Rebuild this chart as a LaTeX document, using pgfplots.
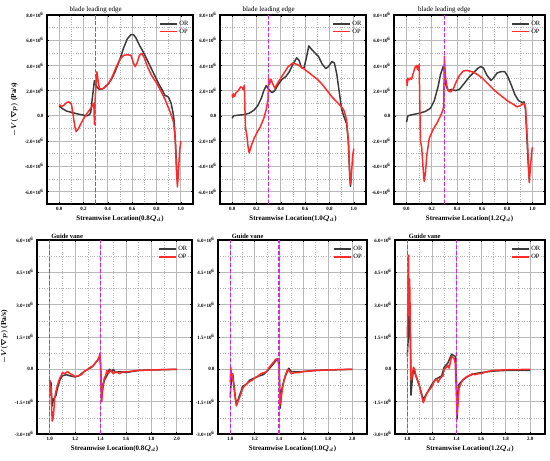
\documentclass[border=0pt]{standalone}
\usepackage{pgfplots}
\pgfplotsset{compat=1.18}
\usepackage{fontspec}
\setmainfont{Liberation Serif}
\definecolor{orc}{HTML}{3C3C3C}
\definecolor{opc}{HTML}{FF2A2A}
\definecolor{mag}{HTML}{D22ADC}
\newcommand{\tl}[1]{#1×10\textsuperscript{6}}
\pgfplotsset{
  base/.style={
    scale only axis,
    anchor=south west,
    clip mode=individual,
    axis line style={line width=1.2pt},
    xmajorgrids, ymajorgrids, xminorgrids, yminorgrids,
    major grid style={solid, draw=gray!55, line width=0.7pt},
    minor grid style={dotted, draw=gray!60, line width=0.5pt},
    minor x tick num=1, minor y tick num=1,
    tick style={black, line width=0.6pt},
    major tick length=2.2bp, minor tick length=1.4bp,
    tick align=inside,
    ticklabel style={font=\fontsize{5}{6}\selectfont\bfseries},
    xticklabel style={/pgf/number format/.cd, fixed, fixed zerofill, precision=1, assume math mode=true},
    xlabel style={font=\fontsize{7}{8}\selectfont\bfseries\boldmath, yshift=2bp},
    ylabel style={font=\fontsize{7.5}{8}\selectfont\bfseries\boldmath},
    legend style={at={(0.99,0.985)}, anchor=north east, draw=none, fill=none,
      font=\fontsize{6.5}{7}\selectfont, row sep=-2pt, inner sep=1pt},
    legend cell align=left,
  },
  top/.style={base, width=146bp, height=189bp, xmin=-0.1, xmax=1.1, ymin=-7, ymax=8,
    xtick={0,0.2,0.4,0.6,0.8,1.0},
    ytick={-6,-4,-2,0,2,4,6,8},
    yticklabels={\tl{-6.0},\tl{-4.0},\tl{-2.0},0.0,\tl{2.0},\tl{4.0},\tl{6.0},\tl{8.0}}},
  bot/.style={base, height=194bp, xmin=0.9, xmax=2.12, ymin=-3, ymax=6,
    xtick={1.0,1.2,1.4,1.6,1.8,2.0},
    ytick={-3,-1.5,0,1.5,3,4.5,6},
    yticklabels={\tl{-3.0},\tl{-1.5},0.0,\tl{1.5},\tl{3.0},\tl{4.5},\tl{6.0}}},
  orline/.style={orc, line width=1.5pt, line join=round},
  opline/.style={opc, line width=1.5pt, line join=round},
  vline/.style={mag, line width=1.4pt, dash pattern=on 4pt off 2pt, forget plot},
}
\begin{document}
\begin{tikzpicture}
\path[use as bounding box] (0,0) rectangle (550bp,-461bp);

% ---------- Panel 1 ----------
\begin{axis}[top, at={(47bp,-204bp)},
  xlabel={Streamwise Location(0.8$Q_d$)},
  ylabel={$-V(\nabla p)$ (Pa/s)}]
\addplot[orline] coordinates {(0.0,0.77)(0.03,0.55)(0.06,0.38)(0.1,0.28)(0.15,0.15)(0.2,0.05)(0.23,0.0)(0.25,0.1)(0.26,0.3)(0.27,1.2)(0.28,2.0)(0.29,2.8)(0.30,2.5)(0.31,2.3)(0.33,2.1)(0.36,2.15)(0.4,2.5)(0.43,2.9)(0.46,3.5)(0.5,4.5)(0.53,5.4)(0.56,6.1)(0.59,6.45)(0.61,6.45)(0.63,6.2)(0.66,5.6)(0.7,4.9)(0.74,4.1)(0.78,3.3)(0.82,2.5)(0.85,2.0)(0.87,1.6)(0.89,1.55)(0.9,1.45)(0.92,1.0)(0.935,0.3)(0.945,-0.4)(0.955,-2.0)(0.965,-4.0)(0.972,-5.2)(0.978,-4.8)};
\addlegendentry{OR}
\addplot[opline] coordinates {(0.0,0.9)(0.02,0.75)(0.04,0.85)(0.06,1.05)(0.08,1.1)(0.1,0.95)(0.11,0.4)(0.12,-0.3)(0.13,-0.9)(0.14,-1.25)(0.16,-1.0)(0.18,-0.6)(0.2,-0.25)(0.23,0.2)(0.26,0.6)(0.28,0.9)(0.285,1.0)(0.29,-0.7)(0.295,1.2)(0.30,2.0)(0.31,3.5)(0.32,2.8)(0.33,2.2)(0.35,2.1)(0.38,2.3)(0.41,2.6)(0.44,3.2)(0.47,3.9)(0.5,4.5)(0.53,4.8)(0.56,4.85)(0.59,4.8)(0.61,4.2)(0.625,3.9)(0.64,4.2)(0.66,4.8)(0.68,4.95)(0.7,4.6)(0.73,3.8)(0.76,3.2)(0.8,2.6)(0.84,1.9)(0.87,1.3)(0.9,0.6)(0.92,0.1)(0.94,-0.5)(0.955,-2.0)(0.965,-4.5)(0.972,-5.65)(0.98,-4.5)(0.99,-2.8)(1.0,-2.0)};
\addlegendentry{OP}
\addplot[vline] coordinates {(0.3,-7)(0.3,8)};
\node[anchor=south, font=\fontsize{7}{8}\selectfont, inner sep=1.5bp] at (axis cs:0.3,8) {blade leading edge};
\end{axis}

% ---------- Panel 2 ----------
\begin{axis}[top, at={(220bp,-204bp)},
  xlabel={Streamwise Location(1.0$Q_d$)}]
\addplot[orline] coordinates {(0.0,-0.2)(0.01,0.0)(0.05,0.05)(0.1,0.1)(0.14,0.2)(0.18,0.45)(0.21,0.8)(0.24,1.4)(0.26,2.0)(0.28,2.4)(0.3,2.1)(0.32,1.9)(0.33,1.85)(0.35,2.0)(0.38,2.5)(0.41,2.9)(0.44,3.1)(0.47,3.5)(0.5,4.1)(0.53,4.6)(0.55,4.4)(0.57,3.8)(0.59,3.8)(0.61,4.6)(0.63,5.55)(0.65,5.3)(0.68,5.0)(0.71,4.7)(0.74,4.1)(0.77,3.75)(0.79,3.9)(0.82,4.3)(0.84,4.2)(0.86,3.3)(0.88,1.9)(0.9,0.5)(0.92,-0.1)(0.94,-0.6)(0.955,-2.0)(0.965,-4.5)(0.972,-5.6)(0.978,-5.0)};
\addlegendentry{OR}
\addplot[opline] coordinates {(0.0,1.7)(0.005,1.45)(0.01,1.75)(0.02,1.55)(0.03,1.8)(0.05,2.0)(0.07,2.3)(0.08,2.25)(0.09,2.1)(0.1,2.4)(0.105,0.5)(0.11,-1.0)(0.12,-1.5)(0.13,-2.4)(0.14,-2.95)(0.16,-2.3)(0.18,-1.8)(0.2,-1.4)(0.23,-0.9)(0.26,-0.2)(0.28,0.5)(0.295,1.3)(0.3,3.0)(0.305,2.5)(0.31,2.6)(0.32,2.9)(0.33,2.6)(0.35,2.2)(0.38,2.7)(0.42,3.3)(0.46,3.9)(0.5,4.2)(0.54,4.05)(0.58,3.8)(0.62,3.5)(0.66,3.2)(0.7,2.9)(0.74,2.5)(0.78,2.0)(0.82,1.5)(0.86,1.1)(0.9,0.7)(0.92,0.4)(0.94,-0.3)(0.955,-2.0)(0.965,-4.3)(0.972,-5.4)(0.98,-4.7)(0.99,-3.2)(1.0,-2.6)};
\addlegendentry{OP}
\addplot[vline] coordinates {(0.3,-7)(0.3,8)};
\node[anchor=south, font=\fontsize{7}{8}\selectfont, inner sep=1.5bp] at (axis cs:0.3,8) {blade leading edge};
\end{axis}

% ---------- Panel 3 ----------
\begin{axis}[top, at={(394bp,-204bp)}, width=151bp,
  xlabel={Streamwise Location(1.2$Q_d$)}]
\addplot[orline] coordinates {(0.0,-0.5)(0.01,0.0)(0.05,0.1)(0.1,0.2)(0.15,0.35)(0.19,0.6)(0.22,1.2)(0.25,2.3)(0.27,3.3)(0.29,3.9)(0.3,3.6)(0.31,2.5)(0.33,2.0)(0.36,2.1)(0.39,2.0)(0.42,2.1)(0.46,2.6)(0.5,3.1)(0.54,3.5)(0.57,3.8)(0.59,3.9)(0.61,3.8)(0.64,3.2)(0.67,2.8)(0.69,3.0)(0.72,3.4)(0.75,3.5)(0.78,3.5)(0.8,3.2)(0.83,2.5)(0.86,1.7)(0.89,1.2)(0.92,1.05)(0.935,1.1)(0.945,0.5)(0.955,-1.5)(0.965,-3.5)(0.975,-5.0)};
\addlegendentry{OR}
\addplot[opline] coordinates {(0.0,2.9)(0.005,2.4)(0.01,3.0)(0.02,2.85)(0.03,3.0)(0.04,2.9)(0.05,3.3)(0.06,3.6)(0.07,3.9)(0.08,4.0)(0.085,3.7)(0.09,3.95)(0.095,3.6)(0.1,4.1)(0.105,1.0)(0.11,-2.0)(0.12,-2.5)(0.13,-4.0)(0.14,-5.2)(0.15,-4.5)(0.16,-3.2)(0.18,-1.8)(0.21,-1.1)(0.24,-0.6)(0.27,0.0)(0.29,0.5)(0.295,0.8)(0.3,4.7)(0.305,3.8)(0.31,3.0)(0.32,2.4)(0.33,2.0)(0.35,1.9)(0.37,2.1)(0.39,2.6)(0.42,3.2)(0.45,3.55)(0.48,3.6)(0.52,3.5)(0.56,3.3)(0.6,3.0)(0.65,2.5)(0.7,2.0)(0.75,1.6)(0.8,1.2)(0.85,0.9)(0.88,0.7)(0.91,0.85)(0.93,1.0)(0.945,0.7)(0.955,-1.0)(0.965,-3.0)(0.975,-5.3)(0.985,-4.0)(0.995,-2.8)(1.0,-2.5)};
\addlegendentry{OP}
\addplot[vline] coordinates {(0.3,-7)(0.3,8)};
\node[anchor=south, font=\fontsize{7}{8}\selectfont, inner sep=1.5bp] at (axis cs:0.3,8) {blade leading edge};
\end{axis}

% ---------- Panel 4 ----------
\begin{axis}[bot, at={(37bp,-434bp)}, width=155bp,
  xlabel={Streamwise Location(0.8$Q_d$)},
  ylabel={$-V(\nabla p)$ (Pa/s)}]
\addplot[orline] coordinates {(1.0,-0.5)(1.005,-0.8)(1.01,-0.6)(1.015,-1.2)(1.02,-1.7)(1.025,-1.5)(1.03,-1.4)(1.04,-1.3)(1.05,-1.2)(1.06,-0.9)(1.08,-0.5)(1.1,-0.3)(1.13,-0.25)(1.16,-0.3)(1.2,-0.35)(1.23,-0.3)(1.26,-0.15)(1.3,0.0)(1.33,0.1)(1.36,0.3)(1.38,0.45)(1.395,0.6)(1.4,0.2)(1.405,-0.6)(1.41,-1.2)(1.42,-0.8)(1.43,-0.5)(1.45,-0.3)(1.47,0.0)(1.49,-0.1)(1.5,0.0)(1.52,-0.15)(1.55,-0.1)(1.6,-0.15)(1.65,-0.1)(1.7,-0.05)(1.8,-0.03)(2.0,0.0)};
\addlegendentry{OR}
\addplot[opline] coordinates {(1.0,-0.5)(1.005,-1.2)(1.01,-0.8)(1.015,-1.8)(1.02,-2.4)(1.025,-2.3)(1.03,-2.1)(1.04,-1.3)(1.05,-1.0)(1.06,-0.75)(1.08,-0.4)(1.09,-0.3)(1.1,-0.15)(1.12,-0.2)(1.14,-0.1)(1.16,-0.2)(1.18,-0.25)(1.2,-0.35)(1.22,-0.3)(1.25,-0.25)(1.27,-0.1)(1.3,0.0)(1.32,0.1)(1.34,0.15)(1.36,0.3)(1.38,0.45)(1.39,0.6)(1.395,0.75)(1.4,0.3)(1.405,-0.5)(1.41,-1.5)(1.415,-1.0)(1.42,-0.7)(1.43,-0.4)(1.44,-0.3)(1.45,-0.05)(1.46,-0.2)(1.48,-0.05)(1.5,-0.2)(1.52,-0.1)(1.55,-0.2)(1.58,-0.1)(1.6,-0.12)(1.65,-0.08)(1.7,-0.05)(1.8,-0.03)(1.9,-0.01)(2.0,0.0)};
\addlegendentry{OP}
\addplot[vline] coordinates {(1.0,-3)(1.0,6)};
\addplot[vline] coordinates {(1.4,-3)(1.4,6)};
\node[anchor=south west, font=\fontsize{6.5}{7}\selectfont\bfseries, inner sep=1.5bp] at (axis cs:1.0,6) {Guide vane};
\end{axis}

% ---------- Panel 5 ----------
\begin{axis}[bot, at={(218bp,-434bp)}, width=149bp,
  xlabel={Streamwise Location(1.0$Q_d$)}]
\addplot[orline] coordinates {(1.0,-1.3)(1.005,-0.8)(1.01,-0.5)(1.015,-0.3)(1.02,-0.2)(1.03,-0.7)(1.04,-1.2)(1.05,-1.6)(1.06,-1.5)(1.07,-1.3)(1.09,-1.0)(1.1,-0.8)(1.13,-0.7)(1.16,-0.5)(1.2,-0.4)(1.24,-0.3)(1.27,-0.25)(1.3,-0.1)(1.33,0.1)(1.36,0.3)(1.38,0.45)(1.395,0.5)(1.4,0.4)(1.405,-0.8)(1.41,-1.8)(1.42,-1.0)(1.44,-0.5)(1.46,-0.2)(1.48,0.05)(1.5,-0.1)(1.55,-0.12)(1.6,-0.1)(1.7,-0.05)(1.8,-0.03)(2.0,0.0)};
\addlegendentry{OR}
\addplot[opline] coordinates {(1.0,-0.6)(1.005,0.1)(1.01,-0.4)(1.015,-0.2)(1.02,-0.3)(1.03,-0.8)(1.04,-1.3)(1.05,-1.7)(1.06,-1.55)(1.07,-1.4)(1.09,-1.1)(1.1,-0.9)(1.12,-0.75)(1.15,-0.6)(1.18,-0.5)(1.2,-0.4)(1.23,-0.3)(1.25,-0.2)(1.28,-0.15)(1.3,-0.1)(1.32,0.1)(1.35,0.3)(1.37,0.45)(1.385,0.5)(1.395,0.3)(1.4,0.1)(1.405,-1.0)(1.41,-1.65)(1.42,-1.2)(1.43,-0.8)(1.45,-0.3)(1.47,0.0)(1.48,-0.05)(1.5,-0.2)(1.53,-0.15)(1.56,-0.15)(1.6,-0.1)(1.65,-0.08)(1.7,-0.05)(1.8,-0.03)(1.9,-0.01)(2.0,0.0)};
\addlegendentry{OP}
\addplot[vline] coordinates {(1.0,-3)(1.0,6)};
\addplot[vline] coordinates {(1.4,-3)(1.4,6)};
\node[anchor=south west, font=\fontsize{6.5}{7}\selectfont\bfseries, inner sep=1.5bp] at (axis cs:1.0,6) {Guide vane};
\end{axis}

% ---------- Panel 6 ----------
\begin{axis}[bot, at={(395bp,-434bp)}, width=150bp,
  xlabel={Streamwise Location(1.2$Q_d$)}]
\addplot[orline] coordinates {(1.0,0.6)(1.005,1.2)(1.01,1.5)(1.013,3.0)(1.015,4.0)(1.018,3.0)(1.02,2.5)(1.025,1.5)(1.03,-1.2)(1.04,-0.5)(1.05,0.0)(1.07,-0.3)(1.1,-0.8)(1.13,-1.4)(1.15,-1.2)(1.18,-0.9)(1.2,-0.7)(1.23,-0.45)(1.25,-0.4)(1.28,-0.3)(1.3,0.1)(1.33,0.3)(1.36,0.7)(1.39,0.6)(1.4,-0.5)(1.405,-2.3)(1.41,-1.5)(1.42,-0.7)(1.45,-0.5)(1.5,-0.3)(1.55,-0.2)(1.6,-0.15)(1.7,-0.08)(1.8,-0.05)(2.0,-0.05)};
\addlegendentry{OR}
\addplot[opline] coordinates {(1.0,1.5)(1.005,3.0)(1.008,4.5)(1.01,5.3)(1.012,3.5)(1.015,2.5)(1.018,4.2)(1.02,3.8)(1.025,2.0)(1.03,-0.5)(1.04,-0.3)(1.05,0.1)(1.06,0.0)(1.07,-0.3)(1.09,-0.6)(1.1,-0.8)(1.12,-1.3)(1.13,-1.55)(1.14,-1.4)(1.16,-1.1)(1.18,-0.95)(1.2,-0.8)(1.22,-0.55)(1.24,-0.45)(1.25,-0.6)(1.27,-0.4)(1.29,-0.3)(1.3,0.0)(1.32,0.1)(1.33,0.2)(1.34,0.05)(1.36,0.6)(1.38,0.5)(1.39,0.3)(1.395,-0.5)(1.4,-1.2)(1.405,-2.1)(1.41,-1.8)(1.42,-0.9)(1.44,-0.6)(1.46,-0.45)(1.48,-0.35)(1.5,-0.3)(1.53,-0.2)(1.55,-0.25)(1.58,-0.2)(1.6,-0.2)(1.65,-0.1)(1.7,-0.05)(1.8,-0.02)(2.0,0.0)};
\addlegendentry{OP}
\addplot[vline] coordinates {(1.0,-3)(1.0,6)};
\addplot[vline] coordinates {(1.4,-3)(1.4,6)};
\node[anchor=south west, font=\fontsize{6.5}{7}\selectfont\bfseries, inner sep=1.5bp] at (axis cs:1.0,6) {Guide vane};
\end{axis}
\end{tikzpicture}
\end{document}
